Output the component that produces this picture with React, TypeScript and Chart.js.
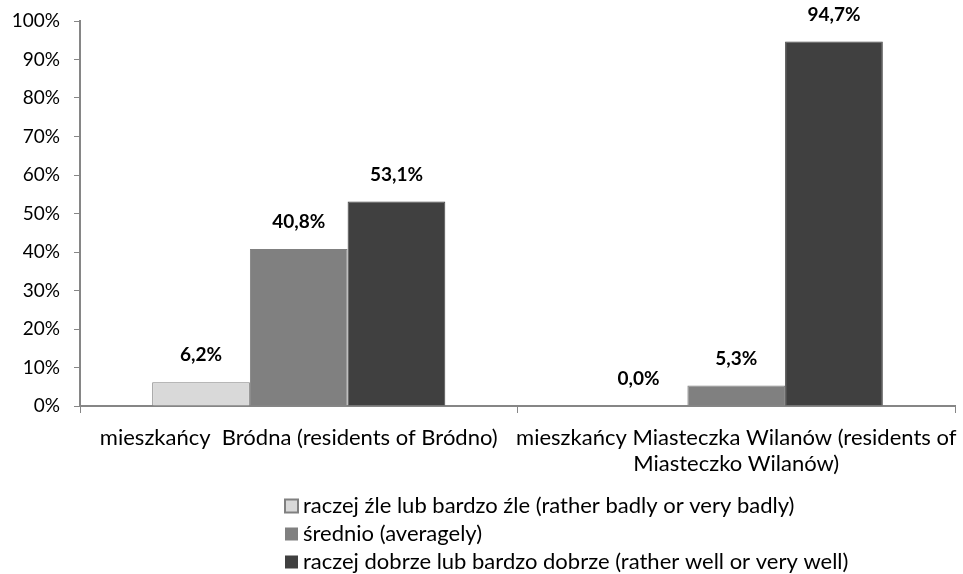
import React, { useEffect, useRef } from "react";
import { Chart, registerables } from "chart.js";

Chart.register(...registerables);

const categories: (string | string[])[] = [
  "mieszkańcy  Bródna (residents of Bródno)",
  ["mieszkańcy Miasteczka Wilanów (residents of", "Miasteczko Wilanów)"],
];
const seriesNames = [
  "raczej źle lub bardzo źle (rather badly or very badly)",
  "średnio (averagely)",
  "raczej dobrze lub bardzo dobrze (rather well or very well)",
];
const badly = [6.2, 0.0];
const average = [40.8, 5.3];
const well = [53.1, 94.7];
const yTicks = [0, 10, 20, 30, 40, 50, 60, 70, 80, 90, 100];

const colors = ["#d9d9d9", "#808080", "#404040"];
const FONT = "Lato, 'Liberation Sans', sans-serif";

const valueLabels = {
  id: "valueLabels",
  afterDatasetsDraw(chart: any) {
    const ctx = chart.ctx;
    ctx.save();
    ctx.font = `bold 19px ${FONT}`;
    ctx.fillStyle = "#000";
    ctx.textAlign = "center";
    ctx.textBaseline = "middle";
    chart.data.datasets.forEach((ds: any, i: number) => {
      const meta = chart.getDatasetMeta(i);
      meta.data.forEach((bar: any, j: number) => {
        const v = ds.data[j] as number;
        ctx.fillText(v.toFixed(1).replace(".", ",") + "%", bar.x, bar.y - 27);
      });
    });
    ctx.restore();
  },
};

const customLegend = {
  id: "customLegend",
  afterDraw(chart: any) {
    const ctx = chart.ctx;
    ctx.save();
    ctx.font = `22px ${FONT}`;
    ctx.textBaseline = "middle";
    ctx.textAlign = "left";
    chart.data.datasets.forEach((ds: any, i: number) => {
      const y = 506 + i * 28;
      ctx.fillStyle = ds.backgroundColor;
      ctx.fillRect(285, y - 6.5, 13, 13);
      if (i === 0) {
        ctx.strokeStyle = "#808080";
        ctx.lineWidth = 2;
        ctx.strokeRect(285, y - 6.5, 13, 13);
      }
      ctx.fillStyle = "#000";
      ctx.fillText(ds.label, 303, y);
    });
    ctx.restore();
  },
};

export default function App() {
  const ref = useRef<HTMLCanvasElement>(null);
  useEffect(() => {
    if (!ref.current) return;
    const chart = new Chart(ref.current, {
      type: "bar",
      data: {
        labels: categories,
        datasets: [
          { label: seriesNames[0], data: badly, backgroundColor: colors[0], borderColor: "#808080", borderWidth: 1 },
          { label: seriesNames[1], data: average, backgroundColor: colors[1], borderColor: "#808080", borderWidth: 1 },
          { label: seriesNames[2], data: well, backgroundColor: colors[2], borderColor: "#404040", borderWidth: 1 },
        ],
      },
      options: {
        responsive: false,
        animation: false,
        layout: { padding: { top: 21, right: 8, left: 0, bottom: 0 } },
        datasets: { bar: { categoryPercentage: 0.67, barPercentage: 1.0 } },
        plugins: {
          legend: { display: false },
          tooltip: { enabled: false },
        },
        scales: {
          x: {
            grid: { drawOnChartArea: false, tickLength: 7, color: "#868686", offset: true },
            border: { color: "#868686", width: 2 },
            ticks: { color: "#000", font: { family: FONT, size: 22, lineHeight: 1.18 }, padding: 12, maxRotation: 0, autoSkip: false },
            afterFit: (s: any) => { s.height = 168; s.paddingLeft = 0; s.paddingRight = 0; },
          },
          y: {
            min: 0,
            max: 100,
            afterBuildTicks: (s: any) => { s.ticks = yTicks.map((v) => ({ value: v })); },
            grid: { drawOnChartArea: false, tickLength: 6, color: "#868686" },
            border: { color: "#868686", width: 2 },
            ticks: {
              color: "#000",
              font: { family: FONT, size: 19 },
              padding: 14,
              callback: (v: any) => v + "%",
            },
            afterFit: (s: any) => { s.width = 80; s.paddingTop = 0; s.paddingBottom = 0; },
          },
        },
      },
      plugins: [valueLabels, customLegend],
    });
    return () => chart.destroy();
  }, []);
  return (
    <div style={{ position: "fixed", left: 0, top: 0, width: 963, height: 574, background: "#fff" }}>
      <canvas ref={ref} width={963} height={574} />
    </div>
  );
}
